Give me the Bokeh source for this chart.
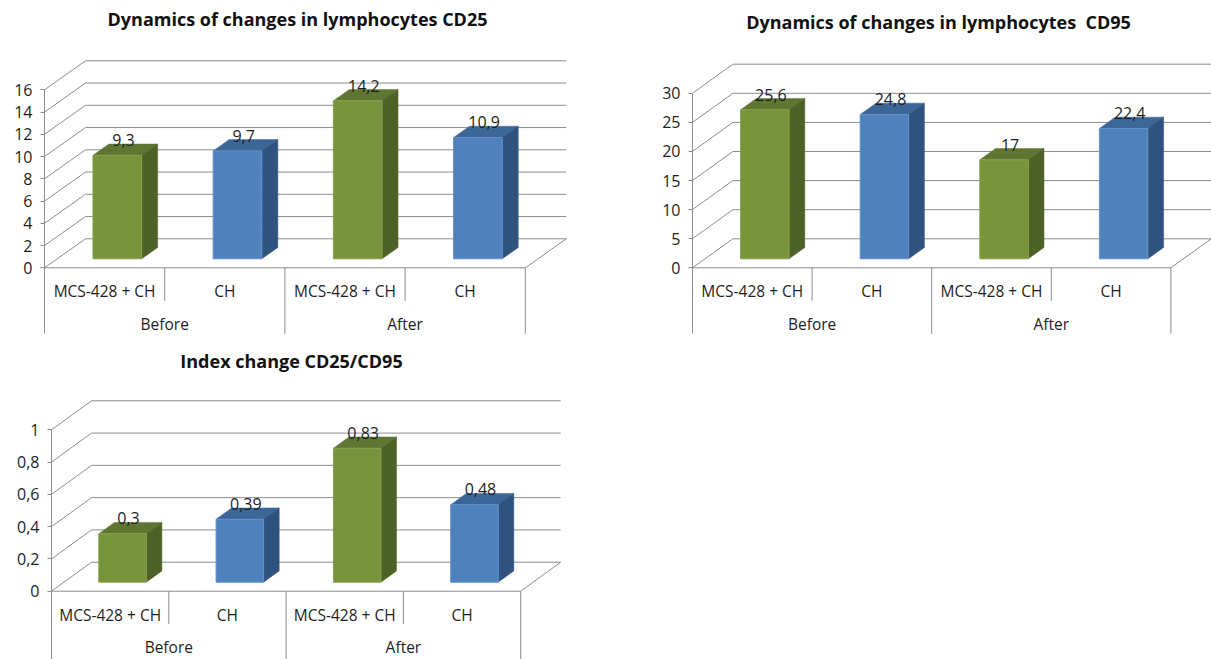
from bokeh.plotting import figure
from bokeh.layouts import column, row
from bokeh.models import FixedTicker, CustomJSTickFormatter, Range1d
from bokeh.core.properties import value
from bokeh.embed import file_html
from bokeh.resources import INLINE

# ---- data -------------------------------------------------------------
periods = ["Before", "After"]
treatments = ["MCS-428 + CH", "CH", "MCS-428 + CH", "CH"]

cd25_values = [9.3, 9.7, 14.2, 10.9]
cd95_values = [25.6, 24.8, 17, 22.4]
index_values = [0.3, 0.39, 0.83, 0.48]

cd25_ticks = [0, 2, 4, 6, 8, 10, 12, 14, 16]
cd95_ticks = [0, 5, 10, 15, 20, 25, 30]
index_ticks = [0, 0.2, 0.4, 0.6, 0.8, 1]

cd25_title = "Dynamics of changes in lymphocytes CD25"
# non-breaking space keeps the double gap before "CD95" in SVG text
cd95_title = "Dynamics of changes in lymphocytes\u00a0 CD95"
index_title = "Index change CD25/CD95"

# ---- styling ----------------------------------------------------------
FONT = "Open Sans"
LINE = "#8c8c8c"
TEXT = "#1e1e1e"
# (front, top, side, front rim) shades of each series colour
SHADES = {
    "green": ("#77933c", "#5f7632", "#4e6228", "#87a34b"),
    "blue": ("#4f81bd", "#3d6698", "#30527e", "#6391c8"),
}
series_colors = ["green", "blue", "green", "blue"]


def fmt(v):
    return f"{v:g}".replace(".", ",")


def make_chart(values, ticks, title, width, height, axis_px, zero_px,
               unit_px, cat_px, depth_px, title_px, outer_len):
    n = len(values)
    x_end = (width - axis_px) / cat_px
    y_start = -(height - zero_px) / unit_px
    y_end = zero_px / unit_px

    p = figure(width=width, height=height,
               x_range=Range1d(0, x_end), y_range=Range1d(y_start, y_end),
               output_backend="svg", toolbar_location=None, title=None,
               x_axis_location=None, y_axis_location="left",
               min_border_left=axis_px, min_border_right=0,
               min_border_top=0, min_border_bottom=0,
               outline_line_color=None, background_fill_color="white",
               border_fill_color="white")
    p.xgrid.visible = False
    p.ygrid.visible = False

    def X(px):
        return (px - axis_px) / cat_px

    def Y(py):
        return (zero_px - py) / unit_px

    DX = depth_px[0] / cat_px
    DY = depth_px[1] / unit_px

    # value axis on the front-left edge, continued down as the category divider
    ax = p.yaxis[0]
    ax.ticker = FixedTicker(ticks=ticks)
    ax.formatter = CustomJSTickFormatter(
        code="return String(Math.round(tick * 100) / 100).replace('.', ',');")
    ax.bounds = (Y(zero_px + outer_len), ticks[-1])
    ax.axis_line_color = LINE
    ax.major_tick_line_color = LINE
    ax.major_tick_out = 4
    ax.major_tick_in = 0
    ax.minor_tick_line_color = None
    ax.major_label_text_font = FONT
    ax.major_label_text_font_size = "16px"
    ax.major_label_text_color = TEXT
    ax.major_label_standoff = 8

    # back wall gridlines and side-wall diagonals
    p.segment(x0=[DX] * len(ticks), y0=[t + DY for t in ticks],
              x1=[n + DX] * len(ticks), y1=[t + DY for t in ticks],
              line_color=LINE, line_width=1)
    p.segment(x0=[0] * len(ticks), y0=ticks,
              x1=[DX] * len(ticks), y1=[t + DY for t in ticks],
              line_color=LINE, line_width=1)
    # floor: front edge and right edge
    p.segment(x0=[0, n], y0=[0, 0], x1=[n, n + DX], y1=[0, DY],
              line_color=LINE, line_width=1)

    # category dividers below the floor
    inner = [1, 3]
    outer = [2, 4]
    p.segment(x0=inner, y0=[0] * 2, x1=inner, y1=[Y(zero_px + 33)] * 2,
              line_color=LINE, line_width=1)
    p.segment(x0=outer, y0=[0] * 2, x1=outer,
              y1=[Y(zero_px + outer_len)] * 2,
              line_color=LINE, line_width=1)

    # 3-D columns
    centers = [i + 0.5 for i in range(n)]
    hw = 0.2025
    d0, d1 = 0.31, 0.70
    fx, fy = d0 * DX, d0 * DY
    ddx, ddy = (d1 - d0) * DX, (d1 - d0) * DY
    for c, v, col in zip(centers, values, series_colors):
        front, top, side, rim = SHADES[col]
        L, R = c - hw + fx, c + hw + fx
        B, T = fy, v + fy
        p.patch(x=[L, R, R + ddx, L + ddx], y=[T, T, T + ddy, T + ddy],
                fill_color=top, line_color=top, line_width=0.5)
        p.patch(x=[R, R + ddx, R + ddx, R], y=[B, B + ddy, T + ddy, T],
                fill_color=side, line_color=side, line_width=0.5)
        p.quad(left=[L], right=[R], bottom=[B], top=[T],
               fill_color=front, line_color=rim, line_width=1)

    # value labels above the columns
    p.text(x=[c + 0.46 * DX for c in centers],
           y=[v + d1 * DY for v in values],
           text=[fmt(v) for v in values],
           text_font=value(FONT), text_font_size="16px", text_color=TEXT,
           text_align="center", text_baseline="alphabetic", y_offset=-4)

    # category labels
    p.text(x=centers, y=[Y(zero_px + 23.5)] * n, text=treatments,
           text_font=value(FONT), text_font_size="15.5px", text_color=TEXT,
           text_align="center", text_baseline="middle")
    p.text(x=[1, 3], y=[Y(zero_px + 56)] * 2, text=periods,
           text_font=value(FONT), text_font_size="15.5px", text_color=TEXT,
           text_align="center", text_baseline="middle")

    # chart title
    p.text(x=[X(title_px[0])], y=[Y(title_px[1])], text=[title],
           text_font=value(FONT), text_font_size="18px",
           text_font_style="bold", text_color="#111111",
           text_align="center", text_baseline="middle")
    return p


p1 = make_chart(cd25_values, cd25_ticks, cd25_title,
                width=600, height=340, axis_px=44, zero_px=267.3,
                unit_px=178 / 16, cat_px=120.2, depth_px=(41, 29),
                title_px=(297, 18), outer_len=66)
p2 = make_chart(cd95_values, cd95_ticks, cd95_title,
                width=611, height=340, axis_px=92, zero_px=267.3,
                unit_px=174.6 / 30, cat_px=119.6, depth_px=(40.4, 29),
                title_px=(938 - 600, 21), outer_len=66)
p3 = make_chart(index_values, index_ticks, index_title,
                width=600, height=319, axis_px=51, zero_px=250.7,
                unit_px=161.4, cat_px=117.3, depth_px=(40, 29),
                title_px=(291, 20), outer_len=69)

layout = column(row(p1, p2), p3)
open("out.html", "w").write(file_html(layout, INLINE))
